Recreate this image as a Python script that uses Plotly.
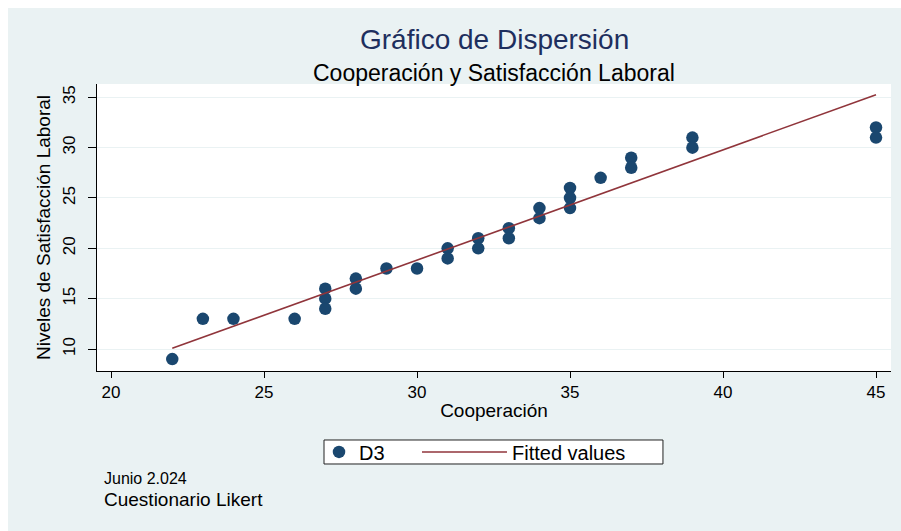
import plotly.graph_objects as go

# D3 scatter: cooperación (x) vs satisfacción laboral (y)
coop = [22, 23, 24, 26, 27, 27, 27, 28, 28, 29, 30, 31, 31, 32, 32,
        33, 33, 34, 34, 35, 35, 35, 36, 37, 37, 39, 39, 45, 45]
satis = [9, 13, 13, 13, 16, 15, 14, 17, 16, 18, 18, 20, 19, 21, 20,
         22, 21, 24, 23, 26, 25, 24, 27, 29, 28, 31, 30, 32, 31]

# fitted values line (ends)
fit_x = [22, 45]
fit_y = [10.07, 35.26]

x_ticks = [20, 25, 30, 35, 40, 45]
y_ticks = [10, 15, 20, 25, 30, 35]

bg = "#EAF2F3"
font_main = "Liberation Sans, Arial, Helvetica, sans-serif"

fig = go.Figure()
fig.add_trace(go.Scatter(
    x = coop,
    y = satis,
    mode = "markers",
    name = "D3",
    legend = "legend",
    marker = dict(color = "#1A476F", size = 12.5)
))
fig.add_trace(go.Scatter(
    x = fit_x,
    y = fit_y,
    mode = "lines",
    name = "Fitted values",
    legend = "legend2",
    line = dict(color = "#90353B", width = 1.6)
))

# two legends side by side (different sample widths), one box drawn round them
leg_common = dict(
    orientation = "h",
    y = -0.282,
    yanchor = "middle",
    xanchor = "left",
    bgcolor = "rgba(0,0,0,0)",
    borderwidth = 0,
    font = dict(size = 20)
)

fig.update_layout(
    width = 893,
    height = 523,
    paper_bgcolor = bg,
    plot_bgcolor = "white",
    font = dict(family = font_main, color = "black"),
    margin = dict(l = 89, r = 10, t = 76, b = 160, pad = 0),
    showlegend = True,
    legend = dict(leg_common, x = 0.2796, itemwidth = 30),
    legend2 = dict(leg_common, x = 0.4030, itemwidth = 85),
    xaxis = dict(
        range = [19.54, 45.49],
        tickvals = x_ticks,
        showgrid = False,
        zeroline = False,
        showline = True,
        linecolor = "black",
        linewidth = 1,
        ticks = "outside",
        ticklen = 6,
        tickcolor = "black",
        tickfont = dict(size = 17),
        title = dict(text = "Cooperación", font = dict(size = 19), standoff = 2)
    ),
    yaxis = dict(
        range = [7.82, 36.32],
        tickvals = y_ticks,
        showgrid = True,
        gridcolor = bg,
        gridwidth = 1,
        zeroline = False,
        showline = True,
        linecolor = "black",
        linewidth = 1,
        ticks = "outside",
        ticklen = 8,
        tickcolor = "black",
        tickangle = -90,
        ticklabelstandoff = 6,
        tickfont = dict(size = 17),
        title = dict(text = "Niveles de Satisfacción Laboral", font = dict(size = 19), standoff = 4)
    ),
    annotations = [
        dict(text = "Gráfico de Dispersión", xref = "paper", yref = "paper",
             x = 0.5, y = 1.155, xanchor = "center", yanchor = "middle",
             showarrow = False, font = dict(size = 28, color = "#1E2F5E")),
        dict(text = "Cooperación y Satisfacción Laboral", xref = "paper", yref = "paper",
             x = 0.5, y = 1.039, xanchor = "center", yanchor = "middle",
             showarrow = False, font = dict(size = 23, color = "black")),
        dict(text = "Junio 2.024", xref = "paper", yref = "paper",
             x = 0.006, y = -0.376, xanchor = "left", yanchor = "middle",
             showarrow = False, font = dict(size = 16)),
        dict(text = "Cuestionario Likert", xref = "paper", yref = "paper",
             x = 0.006, y = -0.448, xanchor = "left", yanchor = "middle",
             showarrow = False, font = dict(size = 19))
    ],
    shapes = [
        # legend frame
        dict(type = "rect", xref = "paper", yref = "paper",
             x0 = 0.2859, x1 = 0.7128, y0 = -0.324, y1 = -0.2404,
             fillcolor = "white", line = dict(color = "#222222", width = 1),
             layer = "above")
    ]
)

# keep the white page edge only on top/left, no scrollbars
page_style = ("document.body.style.margin='8px 0 0 8px';"
              "document.body.style.overflow='hidden';"
              "document.documentElement.style.overflow='hidden';")

fig.write_html("out.html", post_script = page_style)
